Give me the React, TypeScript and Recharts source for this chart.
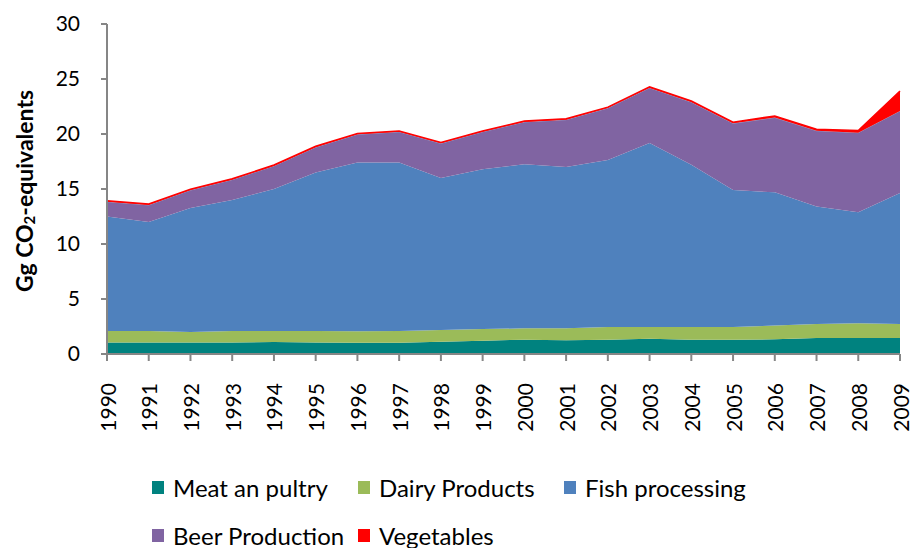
import { AreaChart, Area, XAxis, YAxis } from 'recharts';

const years = ['1990', '1991', '1992', '1993', '1994', '1995', '1996', '1997', '1998', '1999', '2000', '2001', '2002', '2003', '2004', '2005', '2006', '2007', '2008', '2009'];
const meat = [1.05, 1.05, 1.05, 1.05, 1.08, 1.05, 1.03, 1.03, 1.12, 1.21, 1.3, 1.24, 1.3, 1.39, 1.3, 1.3, 1.33, 1.45, 1.45, 1.45];
const dairy = [1.04, 1.04, 0.95, 1.04, 1.01, 1.04, 1.03, 1.06, 1.06, 1.06, 1.03, 1.09, 1.15, 1.06, 1.15, 1.15, 1.25, 1.28, 1.34, 1.28];
const fish = [10.41, 9.91, 11.27, 11.91, 12.91, 14.41, 15.34, 15.31, 13.82, 14.53, 14.91, 14.67, 15.19, 16.73, 14.75, 12.45, 12.12, 10.67, 10.09, 11.91];
const beer = [1.35, 1.55, 1.63, 1.85, 2.1, 2.3, 2.57, 2.8, 3.15, 3.4, 3.86, 4.3, 4.72, 5.02, 5.7, 6.07, 6.8, 6.9, 7.24, 7.46];
const vegetables = [0.08, 0.08, 0.08, 0.08, 0.08, 0.08, 0.08, 0.08, 0.08, 0.08, 0.08, 0.08, 0.08, 0.08, 0.1, 0.1, 0.14, 0.14, 0.2, 1.8];
const yTicks = [0, 5, 10, 15, 20, 25, 30];

const series = [
  { key: 'meat', name: 'Meat an pultry', color: '#00827F' },
  { key: 'dairy', name: 'Dairy Products', color: '#9BBB59' },
  { key: 'fish', name: 'Fish processing', color: '#4F81BD' },
  { key: 'beer', name: 'Beer Production', color: '#8064A2' },
  { key: 'vegetables', name: 'Vegetables', color: '#FF0000' },
];

const data = years.map((year, i) => ({
  year,
  meat: meat[i],
  dairy: dairy[i],
  fish: fish[i],
  beer: beer[i],
  vegetables: vegetables[i],
}));

const font = 'Lato, sans-serif';
const axisColor = '#868686';

function YearTick({ x, y, payload }: any) {
  const ty = y + 20;
  return (
    <text x={x} y={ty} transform={`rotate(-90, ${x}, ${ty})`} textAnchor="end" dominantBaseline="central" fontSize={21} fontFamily={font} fill="#000">
      {payload.value}
    </text>
  );
}

function YLabel() {
  return (
    <text x={16} y={183} transform="rotate(-90, 16, 183)" textAnchor="middle" dominantBaseline="central" fontSize={23} fontWeight="bold" fontFamily={font} fill="#000">
      Gg CO<tspan fontSize={15} dy={5}>2</tspan>
      <tspan dy={-5}>-equivalents</tspan>
    </text>
  );
}

export default function App() {
  return (
    <div style={{ position: 'relative', width: 905, height: 540, fontFamily: font }}>
      <style>{'body { margin: 8px 0 0 8px !important; } .recharts-surface, .recharts-wrapper { overflow: visible !important; }'}</style>
      <AreaChart width={905} height={450} data={data} margin={{ top: 16, right: 13, left: 0, bottom: 0 }}>
        <XAxis
          dataKey="year"
          interval={0}
          stroke={axisColor}
          strokeWidth={2}
          tickSize={7}
          tick={<YearTick />}
          height={104}
        />
        <YAxis
          domain={[0, 30]}
          ticks={yTicks}
          interval={0}
          stroke={axisColor}
          strokeWidth={2}
          tickSize={6}
          tickMargin={21}
          width={99}
          tick={{ fill: '#000', fontSize: 21, fontFamily: font }}
          label={<YLabel />}
        />
        {series.map((s) => (
          <Area
            key={s.key}
            type="linear"
            dataKey={s.key}
            name={s.name}
            stackId="1"
            fill={s.color}
            fillOpacity={1}
            stroke={s.key === 'vegetables' ? s.color : s.key === 'beer' ? '#9AA8D0' : 'none'}
            strokeWidth={s.key === 'vegetables' ? 1.5 : 0.8}
            isAnimationActive={false}
          />
        ))}
      </AreaChart>
      <div
        style={{
          position: 'absolute',
          left: 144,
          top: 467,
          display: 'grid',
          gridTemplateColumns: '206px 206px 220px',
          rowGap: 24,
        }}
      >
        {series.map((s) => (
          <div key={s.key} style={{ display: 'flex', alignItems: 'center', height: 24, fontSize: 24, whiteSpace: 'nowrap' }}>
            <span style={{ width: 12, height: 13, background: s.color, marginRight: 9, flexShrink: 0 }} />
            {s.name}
          </div>
        ))}
      </div>
    </div>
  );
}
